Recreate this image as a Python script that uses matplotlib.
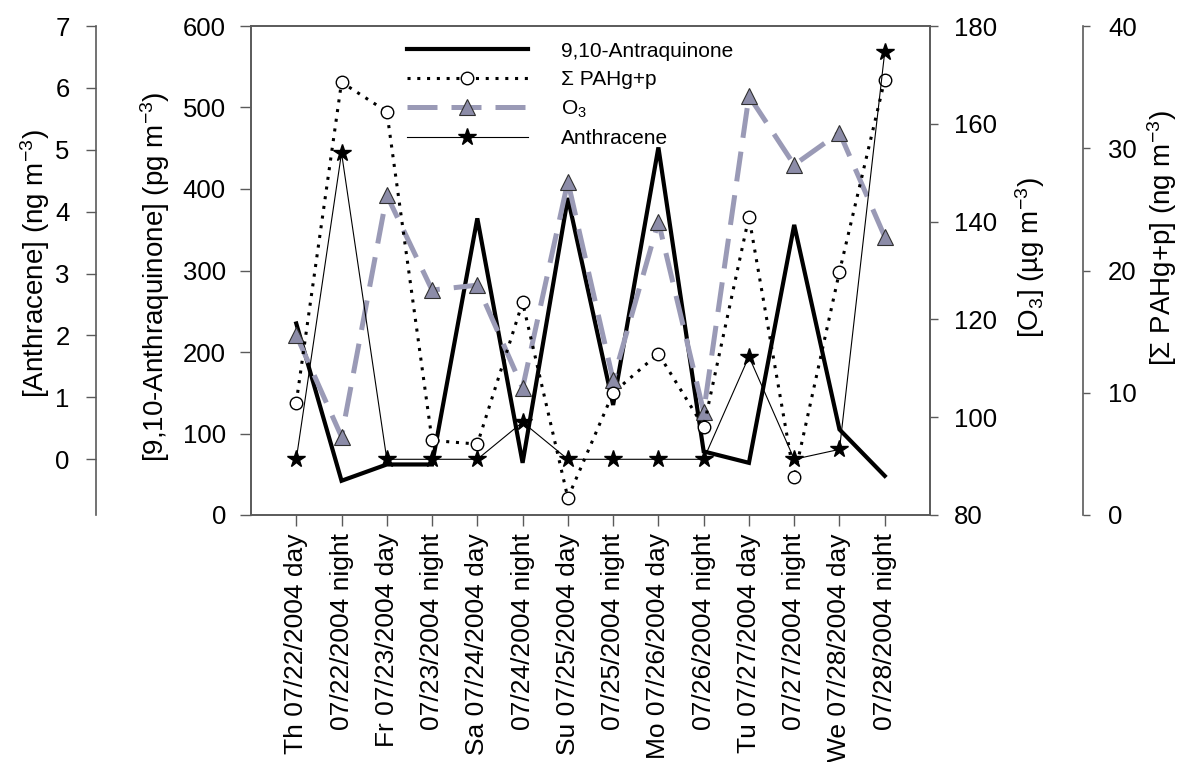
import matplotlib
matplotlib.use("Agg")
import matplotlib.pyplot as plt
from matplotlib.lines import Line2D

plt.rcParams['font.family'] = ['Liberation Sans', 'DejaVu Sans']
plt.rcParams['mathtext.fontset'] = 'custom'
plt.rcParams['mathtext.rm'] = 'Liberation Sans'
plt.rcParams['mathtext.it'] = 'Liberation Sans:italic'
plt.rcParams['mathtext.bf'] = 'Liberation Sans:bold'

categories = ["Th 07/22/2004 day", "07/22/2004 night", "Fr 07/23/2004 day", "07/23/2004 night",
              "Sa 07/24/2004 day", "07/24/2004 night", "Su 07/25/2004 day", "07/25/2004 night",
              "Mo 07/26/2004 day", "07/26/2004 night", "Tu 07/27/2004 day", "07/27/2004 night",
              "We 07/28/2004 day", "07/28/2004 night"]
antraquinone = [235, 42, 62, 62, 364, 64, 389, 135, 451, 78, 64, 356, 105, 48]
pah = [9.2, 35.4, 33.0, 6.1, 5.8, 17.4, 1.4, 10.0, 13.2, 7.2, 24.4, 3.1, 19.9, 35.6]
o3 = [116.8, 96.0, 145.4, 126.0, 127.0, 106.0, 148.2, 107.6, 140.0, 101.1, 165.7, 151.6, 158.2, 136.9]
anthracene = [0, 4.95, 0, 0, 0, 0.6, 0, 0, 0, 0, 1.66, 0, 0.16, 6.58]

W, H = 1179, 762
fig = plt.figure(figsize=(W / 100, H / 100), dpi=100)
L, R, T, B = 251, 930, 26, 515
ax = fig.add_axes([L / W, 1 - B / H, (R - L) / W, (B - T) / H])

spine_c = '#5a5a5a'
TICK = 18.5
LABEL = 20
x = list(range(len(categories)))

o3_col = '#9a9ab6'
o3_face = '#8c8ca8'


def fig_label(px, py, text):
    fig.text(px / W, 1 - py / H, text, rotation=90, ha='center', va='center',
             rotation_mode='anchor', fontsize=LABEL)


# Main axis: antraquinone
ax.plot(x, antraquinone, color='black', lw=3.0, solid_joinstyle='miter', zorder=3)
ax.set_xlim(-1, 14)
ax.set_ylim(0, 600)
ax.set_yticks(range(0, 601, 100))
ax.set_xticks(x)
ax.set_xticklabels(categories, rotation=90, fontsize=19)
ax.tick_params(axis='y', direction='out', length=8, width=1, pad=10, labelsize=TICK, color=spine_c)
ax.tick_params(axis='x', direction='out', length=8, width=1, pad=5, color=spine_c)
for s in ax.spines.values():
    s.set_color(spine_c)
    s.set_linewidth(1.2)

# O3 axis
ax_o3 = ax.twinx()
ax_o3.plot(x, o3, color=o3_col, lw=3.6, dashes=(6, 2.8), marker='^', markersize=11,
           markerfacecolor=o3_face, markeredgecolor='#303030', markeredgewidth=0.8, zorder=2)
ax_o3.set_ylim(80, 180)
ax_o3.set_yticks(range(80, 181, 20))
ax_o3.tick_params(axis='y', direction='out', length=6, width=1, pad=11, labelsize=TICK, color=spine_c)
for s in ax_o3.spines.values():
    s.set_color(spine_c)
    s.set_linewidth(1.2)

# PAH axis
ax_pah = ax.twinx()
ax_pah.spines['right'].set_position(('axes', (1083 - L) / (R - L)))
for k in ['top', 'bottom', 'left']:
    ax_pah.spines[k].set_visible(False)
ax_pah.spines['right'].set_color(spine_c)
ax_pah.spines['right'].set_linewidth(1.2)
ax_pah.plot(x, pah, color='black', lw=2.2, linestyle=(0, (1, 2.2)), marker='o', markersize=9,
            markerfacecolor='white', markeredgecolor='black', markeredgewidth=1.0, zorder=4)
ax_pah.set_ylim(0, 40)
ax_pah.set_yticks(range(0, 41, 10))
ax_pah.tick_params(axis='y', direction='out', length=5, width=1, pad=13, labelsize=TICK, color=spine_c)

# Anthracene axis
ax_an = ax.twinx()
ax_an.yaxis.set_ticks_position('left')
ax_an.spines['left'].set_position(('axes', (96 - L) / (R - L)))
for k in ['top', 'bottom', 'right']:
    ax_an.spines[k].set_visible(False)
ax_an.spines['left'].set_visible(True)
ax_an.spines['left'].set_color(spine_c)
ax_an.spines['left'].set_linewidth(1.2)
ax_an.plot(x, anthracene, color='black', lw=0.8, marker='*', markersize=13,
           markerfacecolor='black', markeredgecolor='black', zorder=5)
ax_an.set_ylim(-0.9, 7)
ax_an.set_yticks(range(0, 8))
ax_an.tick_params(axis='y', direction='out', length=7, width=1, pad=12, labelsize=TICK, color=spine_c)

# Axis labels
fig_label(35, 264, "[Anthracene] (ng m$^{-3}$)")
fig_label(155, 277, "[9,10-Anthraquinone] (pg m$^{-3}$)")
fig_label(1030, 258, "[O$_3$] (µg m$^{-3}$)")
fig_label(1162, 238, "[Σ PAHg+p] (ng m$^{-3}$)")

handles = [
    Line2D([], [], color='black', lw=3.0),
    Line2D([], [], color='black', lw=2.2, linestyle=(0, (1, 2.2)), marker='o', markersize=9,
           markerfacecolor='white', markeredgecolor='black'),
    Line2D([], [], color=o3_col, lw=3.6, dashes=(6, 2.8), marker='^', markersize=11,
           markerfacecolor=o3_face, markeredgecolor='#303030', markeredgewidth=0.8),
    Line2D([], [], color='black', lw=0.8, marker='*', markersize=13, markerfacecolor='black'),
]
labels = ["9,10-Antraquinone", "Σ PAHg+p", "O$_3$", "Anthracene"]
ax_an.legend(handles, labels, loc='upper left', bbox_to_anchor=(0.2297, 0.968),
             frameon=False, fontsize=15, handlelength=5.8, handletextpad=1.6,
             labelspacing=0.45, borderpad=0, borderaxespad=0, numpoints=1)

fig.savefig("out.png", dpi=100)
